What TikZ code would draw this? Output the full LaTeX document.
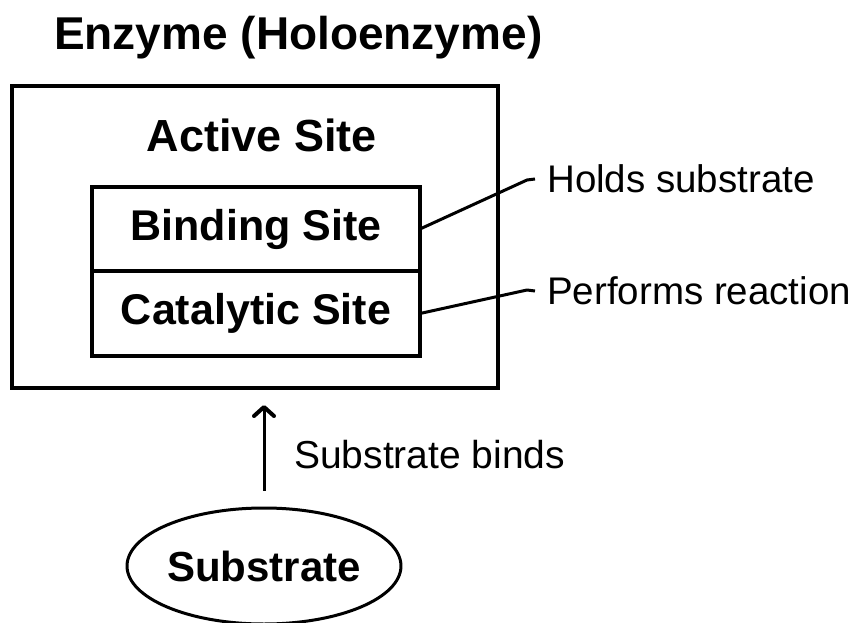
\documentclass[tikz,border=0pt]{standalone}
\usepackage{fontspec}
\setmainfont{Liberation Sans}
\usetikzlibrary{positioning, arrows.meta, shapes.geometric}

\begin{document}
\begin{tikzpicture}[x=1pt, y=-1pt]
		\tikzstyle{box}=[rectangle, draw=black, line width=3.5pt, minimum width=328pt, inner sep=0pt, outer sep=0pt, font=\fontsize{43}{50}\selectfont\bfseries]
		\tikzstyle{connect}=[line width=3pt, line join=round]
		\tikzstyle{note}=[inner xsep=12pt, inner ysep=0pt, anchor=west, font=\fontsize{38.5}{44}\selectfont]
		\useasboundingbox (0,0) rectangle (857,623);
		
		\node[anchor=base west, inner sep=0pt, font=\fontsize{46}{54}\selectfont\bfseries] (title) at (54,50) {Enzyme (Holoenzyme)};
		
		\node[rectangle, draw=black, line width=4pt, minimum width=486pt, minimum height=302pt] (enzyme) at (255,237) {};
		\node[anchor=base, inner sep=0pt, font=\fontsize{45}{52}\selectfont\bfseries] (active) at (262,152) {Active Site};
		
		\node[box, minimum height=84pt] (binding) at (256,229) {Binding Site};
		\node[box, minimum height=85pt] (catalytic) [below=0pt of binding] {Catalytic Site};
		
		\coordinate (holdsbend) at (527,180);
		\coordinate (performsbend) at (527,290);
		\node[note] (holds) at (535,179) {Holds substrate};
		\node[note] (performs) at (535,291) {Performs reaction};
		
		\path[connect, draw] (binding.east) -- (holdsbend) -- (holds.west);
		\path[connect, draw] (catalytic.east) -- (performsbend) -- (performs.west);
		
		\node[ellipse, draw=black, line width=3pt, minimum width=242pt, minimum height=116pt, inner sep=0pt, font=\fontsize{42}{48}\selectfont\bfseries] (substrate) at (264,566) {Substrate};
		
		\draw[connect, -{Straight Barb[length=9pt, width=20pt, line width=4pt, round]}, shorten <=16pt, shorten >=15pt] (substrate.north) -- (substrate.north |- enzyme.south);
		\node[anchor=base west, inner sep=0pt, font=\fontsize{39}{45}\selectfont] (binds) at (294,468) {Substrate binds};
		
	\end{tikzpicture}
\end{document}
